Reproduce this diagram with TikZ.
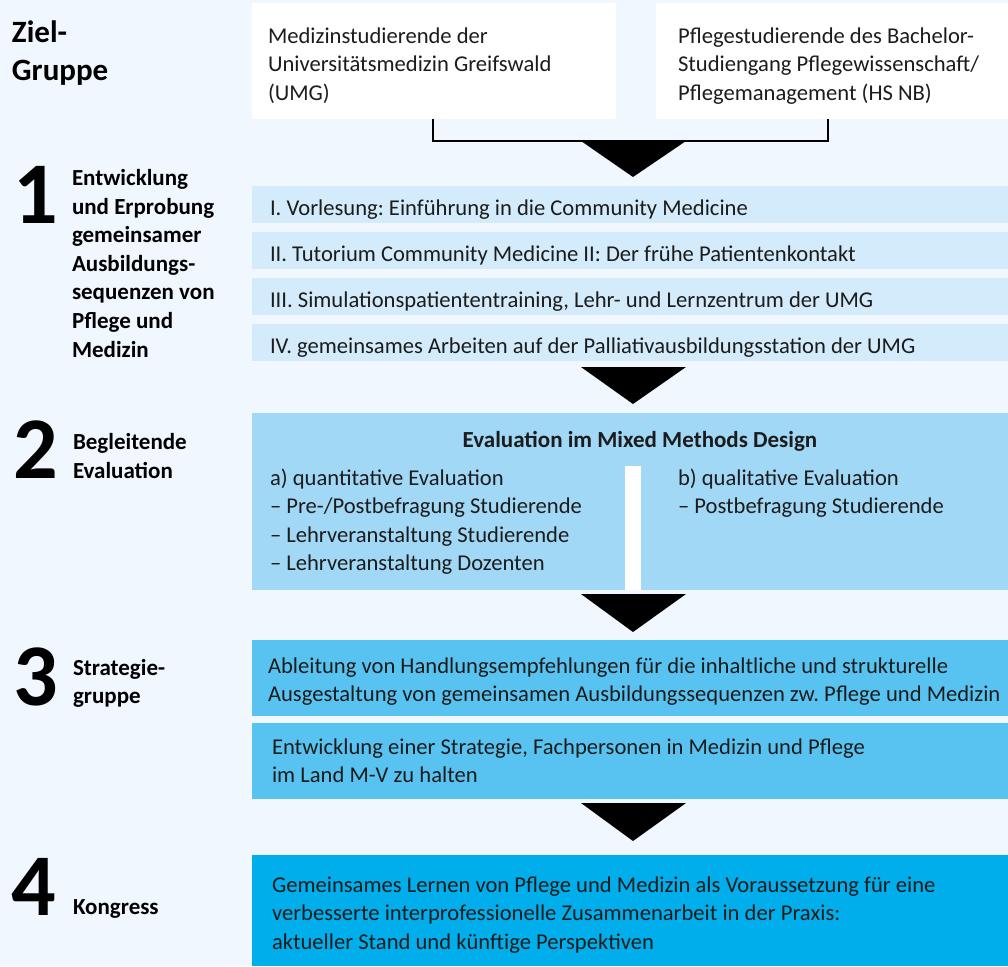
\documentclass[tikz,border=0pt]{standalone}
\usepackage{fontspec}
\setmainfont{Carlito}
\frenchspacing
\begin{document}
\begin{tikzpicture}[x=1pt,y=-1pt,
  every node/.style={inner sep=0pt, outer sep=0pt},
  panel/.style={rectangle, anchor=north west, draw=none, minimum width=756pt},
  body/.style={anchor=base west, align=left, text=ink, font=\fontsize{22.6}{28.5}\selectfont},
  head/.style={anchor=base, text=ink, font=\fontsize{23}{26}\selectfont\bfseries},
  lab/.style={anchor=base west, align=left, text=black, font=\fontsize{23}{28.6}\selectfont\bfseries},
  bignum/.style={anchor=base west, text=black, font=\fontsize{88}{88}\selectfont\bfseries},
  bracket/.style={draw=black, line width=2.4pt, line join=miter},
  arrowtri/.style={fill=black}]
\definecolor{bg}{HTML}{F0F7FE}
\definecolor{ink}{HTML}{1C1C1C}
\definecolor{stageA}{HTML}{D3EBFA}
\definecolor{stageB}{HTML}{A1D8F6}
\definecolor{stageC}{HTML}{58C3F0}
\definecolor{stageD}{HTML}{00AEEB}

\useasboundingbox (0,0) rectangle (1008,966);
\fill[bg] (0,0) rectangle (1008,966);

% multi-line nodes are placed by the baseline of their last line

% target groups
\node[lab, font=\fontsize{31}{38}\selectfont\bfseries] (zg) at (12,80) {Ziel-\\Gruppe};
\node[rectangle, anchor=north west, fill=white, minimum width=364pt, minimum height=116pt] (zl) at (252,3) {};
\node[rectangle, anchor=north west, fill=white, minimum width=352pt, minimum height=116pt] (zr) at (656,3) {};
\node[body] (zlt) at (268,100) {Medizinstudierende der\\Universitätsmedizin Greifswald\\(UMG)};
\node[body] (zrt) at (678,100) {Pflegestudierende des Bachelor-\\Studiengang Pflegewissenschaft/\\Pflegemanagement (HS NB)};
\draw[bracket] ([xshift=181pt]zl.south west) -- ++(0,22) -| ([xshift=172pt]zr.south west);
\fill[arrowtri] (581,141) -- (686,141) -- (633,177) -- cycle;

% stage 1
\node[bignum] (n1) at (13,223) {1};
\node[lab] (l1) at (72,357) {Entwicklung\\und Erprobung\\gemeinsamer\\Ausbildungs-\\sequenzen von\\Pflege und\\Medizin};
\foreach \i/\y/\t in {1/186/{I. Vorlesung: Einführung in die Community Medicine},
                      2/232/{II. Tutorium Community Medicine II: Der frühe Patientenkontakt},
                      3/278/{III. Simulationspatiententraining, Lehr- und Lernzentrum der UMG},
                      4/324/{IV. gemeinsames Arbeiten auf der Palliativausbildungsstation der UMG}}{
  \node[panel, fill=stageA, minimum height=37pt] (r\i) at (252,\y) {};
  \node[body] (r\i t) at (270,\y+29) {\t};
}
\fill[arrowtri] (581,367) -- (686,367) -- (633,404) -- cycle;

% stage 2
\node[bignum] (n2) at (13,478) {2};
\node[lab, font=\fontsize{23}{29}\selectfont\bfseries] (l2) at (73,478) {Begleitende\\Evaluation};
\node[panel, fill=stageB, minimum height=177pt] (s2) at (252,413) {};
\node[rectangle, anchor=north west, fill=white, minimum width=16pt, minimum height=124pt] (bar) at (625,466) {};
\node[head] (s2h) at (640,447) {Evaluation im Mixed Methods Design};
\node[body] (s2a) at (270,570.5) {a) quantitative Evaluation\\– Pre-/Postbefragung Studierende\\– Lehrveranstaltung Studierende\\– Lehrveranstaltung Dozenten};
\node[body] (s2b) at (678,513.5) {b) qualitative Evaluation\\– Postbefragung Studierende};
\fill[arrowtri] (581,594) -- (686,594) -- (633,632) -- cycle;

% stage 3
\node[bignum] (n3) at (13,705) {3};
\node[lab, font=\fontsize{23}{28}\selectfont\bfseries] (l3) at (73,703) {Strategie-\\gruppe};
\node[panel, fill=stageC, minimum height=76pt] (s3a) at (252,640) {};
\node[panel, fill=stageC, minimum height=76pt] (s3b) at (252,723) {};
\node[body] (s3at) at (268,701.5) {Ableitung von Handlungsempfehlungen für die inhaltliche und strukturelle\\Ausgestaltung von gemeinsamen Ausbildungssequenzen zw. Pflege und Medizin};
\node[body] (s3bt) at (272,782.5) {Entwicklung einer Strategie, Fachpersonen in Medizin und Pflege\\im Land M-V zu halten};
\fill[arrowtri] (581,803) -- (686,803) -- (633,841) -- cycle;

% stage 4
\node[bignum] (n4) at (12,915) {4};
\node[lab] (l4) at (73,914) {Kongress};
\node[panel, fill=stageD, minimum height=111pt] (s4) at (252,855) {};
\node[body] (s4t) at (272,949) {Gemeinsames Lernen von Pflege und Medizin als Voraussetzung für eine\\verbesserte interprofessionelle Zusammenarbeit in der Praxis:\\aktueller Stand und künftige Perspektiven};
\end{tikzpicture}
\end{document}
